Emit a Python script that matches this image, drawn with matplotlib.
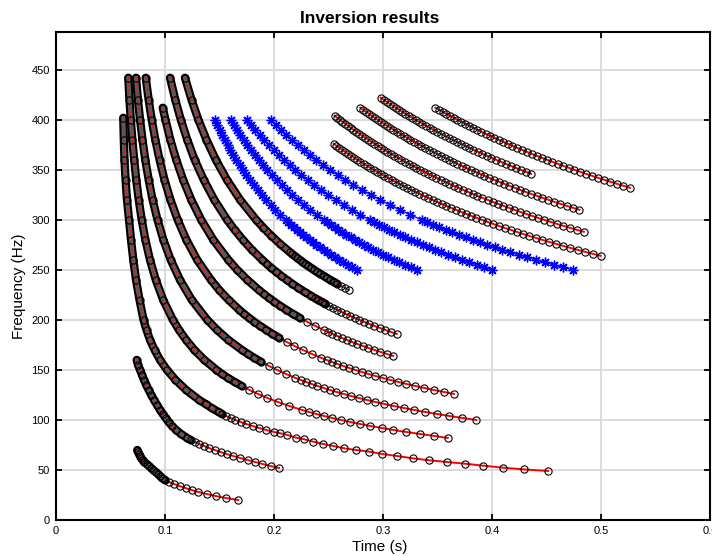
import numpy as np
import matplotlib
matplotlib.use("Agg")
import matplotlib.pyplot as plt

plt.rcParams["font.family"] = ["Liberation Sans", "DejaVu Sans"]

# picked dispersion curves: arrival time (s) against frequency (Hz)
m1_f = [402, 380, 360, 340, 320, 300, 280, 260, 240, 220, 200, 190, 180, 170, 160, 150, 140, 130,
        120, 116, 112, 108, 106, 104, 102, 100, 98, 96, 94, 92, 90, 88, 86.7, 85, 82.3, 80.7, 78.3,
        76, 74, 71.7, 70, 68.3, 66, 64, 61.7, 59.7, 58, 56.3, 54.3, 52.3, 50.6, 49]
m1_t = [0.0617, 0.0622, 0.0628, 0.0638, 0.0651, 0.0670, 0.0688, 0.0709, 0.0734, 0.0766, 0.0803,
        0.0830, 0.0862, 0.0904, 0.0954, 0.1018, 0.1096, 0.1193, 0.1312, 0.1372, 0.1427, 0.1491,
        0.1523, 0.1560, 0.1601, 0.1642, 0.1693, 0.1743, 0.1803, 0.1862, 0.1927, 0.2000, 0.2058,
        0.2122, 0.2202, 0.2278, 0.2361, 0.2450, 0.2544, 0.2642, 0.2752, 0.2874, 0.2994, 0.3128,
        0.3272, 0.3425, 0.3584, 0.3752, 0.3920, 0.4101, 0.4294, 0.4514]

low1_f = list(range(70, 18, -2))
low1_t = [0.0746, 0.0752, 0.0761, 0.0771, 0.0780, 0.0794, 0.0807, 0.0830, 0.0853, 0.0872, 0.0894,
          0.0913, 0.0936, 0.0954, 0.0972, 0.1000, 0.1037, 0.1083, 0.1133, 0.1188, 0.1243, 0.1306,
          0.1383, 0.1465, 0.1560, 0.1672]

low2_f = [160, 155, 150, 145, 140, 135, 130, 125, 120, 115, 110, 106, 102, 98, 94, 90, 86, 82] + \
    list(range(80, 50, -2))
low2_t = [0.0740, 0.0752, 0.0771, 0.0789, 0.0807, 0.0828, 0.0850, 0.0874, 0.0899, 0.0927, 0.0954,
          0.0979, 0.1005, 0.1032, 0.1064, 0.1101, 0.1147, 0.1202, 0.1234, 0.1271, 0.1312, 0.1358,
          0.1404, 0.1454, 0.1509, 0.1564, 0.1624, 0.1688, 0.1757, 0.1826, 0.1894, 0.1968, 0.2046]

m2_f = [442, 420, 400, 380, 360, 340, 320, 300, 280, 260, 240, 220, 200, 190, 180, 170, 160, 150,
        146, 142, 138, 134, 130, 126, 122, 118, 114, 110] + list(range(108, 80, -2))
m2_t = [0.0663, 0.0674, 0.0686, 0.0700, 0.0717, 0.0736, 0.0759, 0.0786, 0.0820, 0.0862, 0.0915,
        0.0983, 0.1072, 0.1128, 0.1193, 0.1269, 0.1361, 0.1472, 0.1522, 0.1577, 0.1638, 0.1703,
        0.1774, 0.1853, 0.1939, 0.2034, 0.2139, 0.2257, 0.2320, 0.2387, 0.2459, 0.2534, 0.2614,
        0.2698, 0.2789, 0.2884, 0.2987, 0.3096, 0.3213, 0.3338, 0.3472, 0.3594]

m3_f = [442, 420, 400, 380, 360, 340, 320, 300, 280, 260, 240, 220, 200, 190, 180, 170, 166, 162,
        158, 154, 150, 146, 142] + list(range(140, 98, -2))
m3_t = [0.0734, 0.0751, 0.0771, 0.0793, 0.0819, 0.0850, 0.0886, 0.0931, 0.0985, 0.1052, 0.1137,
        0.1245, 0.1388, 0.1477, 0.1581, 0.1704, 0.1760, 0.1819, 0.1883, 0.1952, 0.2028, 0.2109,
        0.2197, 0.2244, 0.2294, 0.2344, 0.2398, 0.2454, 0.2512, 0.2573, 0.2638, 0.2706, 0.2776,
        0.2850, 0.2928, 0.3011, 0.3097, 0.3189, 0.3284, 0.3386, 0.3494, 0.3607, 0.3728, 0.3856]

m4_f = [442, 420, 400, 380, 360, 340, 320, 300, 280, 260, 240, 230, 220, 210] + \
    list(range(206, 161, -4)) + list(range(160, 124, -2))
m4_t = [0.0823, 0.0850, 0.0878, 0.0911, 0.0950, 0.0995, 0.1050, 0.1116, 0.1196, 0.1295, 0.1421,
        0.1496, 0.1583, 0.1681, 0.1724, 0.1771, 0.1819, 0.1872, 0.1927, 0.1985, 0.2048, 0.2115,
        0.2187, 0.2263, 0.2346, 0.2435, 0.2482, 0.2530, 0.2581, 0.2633, 0.2688, 0.2745, 0.2804,
        0.2865, 0.2929, 0.2996, 0.3066, 0.3139, 0.3215, 0.3294, 0.3378, 0.3464, 0.3556, 0.3651]

m5_f = [412, 400, 380, 360, 340, 320, 300, 280, 260, 250, 240, 230] + \
    list(range(226, 189, -4)) + list(range(188, 162, -2))
m5_t = [0.0979, 0.1004, 0.1049, 0.1103, 0.1166, 0.1241, 0.1332, 0.1443, 0.1581, 0.1662, 0.1755,
        0.1859, 0.1905, 0.1952, 0.2004, 0.2057, 0.2114, 0.2174, 0.2238, 0.2306, 0.2377, 0.2454,
        0.2494, 0.2535, 0.2578, 0.2622, 0.2668, 0.2715, 0.2763, 0.2814, 0.2866, 0.2920, 0.2976,
        0.3035, 0.3094]

m6_f = [442, 420, 400, 380, 360, 340, 320, 300, 290, 280, 270, 260] + \
    list(range(256, 223, -4)) + list(range(222, 184, -2))
m6_t = [0.1046, 0.1094, 0.1145, 0.1204, 0.1272, 0.1355, 0.1452, 0.1570, 0.1638, 0.1714, 0.1797,
        0.1892, 0.1932, 0.1975, 0.2020, 0.2067, 0.2117, 0.2168, 0.2223, 0.2280, 0.2341, 0.2372,
        0.2405, 0.2439, 0.2472, 0.2507, 0.2544, 0.2581, 0.2619, 0.2659, 0.2699, 0.2741, 0.2784,
        0.2828, 0.2874, 0.2921, 0.2970, 0.3020, 0.3072, 0.3126]

m7_f = [442, 420, 400, 380, 360, 340, 320, 300, 292, 284, 276, 268] + list(range(266, 228, -2))
m7_t = [0.1183, 0.1243, 0.1306, 0.1380, 0.1466, 0.1568, 0.1689, 0.1836, 0.1903, 0.1976, 0.2055,
        0.2142, 0.2165, 0.2188, 0.2212, 0.2237, 0.2261, 0.2287, 0.2314, 0.2340, 0.2368, 0.2396,
        0.2426, 0.2455, 0.2485, 0.2517, 0.2549, 0.2581, 0.2615, 0.2650, 0.2684]

# late arrivals, upper right
r1_f = list(range(404, 287, -2))
r1_t = [0.2556, 0.2580, 0.2604, 0.2628, 0.2653, 0.2678, 0.2703, 0.2729, 0.2755, 0.2782,
        0.2809, 0.2836, 0.2864, 0.2892, 0.2921, 0.2950, 0.2980, 0.3010, 0.3041, 0.3072,
        0.3104, 0.3136, 0.3169, 0.3202, 0.3236, 0.3271, 0.3306, 0.3341, 0.3377, 0.3414,
        0.3452, 0.3490, 0.3529, 0.3568, 0.3609, 0.3650, 0.3692, 0.3734, 0.3777, 0.3821,
        0.3866, 0.3912, 0.3959, 0.4006, 0.4055, 0.4104, 0.4154, 0.4206, 0.4258, 0.4311,
        0.4366, 0.4421, 0.4477, 0.4535, 0.4594, 0.4654, 0.4715, 0.4778, 0.4842]
r2_f = list(range(376, 263, -2))
r2_t = [0.2547, 0.2572, 0.2598, 0.2625, 0.2651, 0.2679, 0.2706, 0.2735, 0.2763, 0.2793,
        0.2822, 0.2852, 0.2883, 0.2914, 0.2945, 0.2978, 0.3011, 0.3044, 0.3078, 0.3113,
        0.3148, 0.3184, 0.3220, 0.3257, 0.3295, 0.3334, 0.3373, 0.3413, 0.3454, 0.3495,
        0.3537, 0.3580, 0.3625, 0.3669, 0.3715, 0.3762, 0.3809, 0.3857, 0.3907, 0.3957,
        0.4009, 0.4061, 0.4115, 0.4170, 0.4225, 0.4282, 0.4340, 0.4400, 0.4461, 0.4522,
        0.4586, 0.4651, 0.4717, 0.4785, 0.4854, 0.4925, 0.4997]
r3_f = list(range(412, 309, -2))
r3_t = [0.2791, 0.2817, 0.2843, 0.2870, 0.2896, 0.2924, 0.2951, 0.2979, 0.3008, 0.3037,
        0.3066, 0.3096, 0.3126, 0.3157, 0.3188, 0.3220, 0.3252, 0.3285, 0.3318, 0.3352,
        0.3386, 0.3421, 0.3456, 0.3492, 0.3529, 0.3566, 0.3604, 0.3643, 0.3682, 0.3722,
        0.3762, 0.3803, 0.3845, 0.3888, 0.3931, 0.3975, 0.4020, 0.4066, 0.4113, 0.4160,
        0.4208, 0.4257, 0.4307, 0.4358, 0.4410, 0.4463, 0.4517, 0.4572, 0.4627, 0.4684,
        0.4743, 0.4802]
r4_f = list(range(422, 345, -2))
r4_t = [0.2977, 0.3005, 0.3032, 0.3060, 0.3088, 0.3117, 0.3146, 0.3175, 0.3205, 0.3236,
        0.3266, 0.3298, 0.3330, 0.3362, 0.3395, 0.3428, 0.3462, 0.3496, 0.3531, 0.3566,
        0.3602, 0.3638, 0.3676, 0.3713, 0.3751, 0.3790, 0.3830, 0.3870, 0.3911, 0.3952,
        0.3995, 0.4037, 0.4081, 0.4125, 0.4171, 0.4217, 0.4263, 0.4310, 0.4359]
r5_f = list(range(412, 331, -2))
r5_t = [0.3481, 0.3514, 0.3546, 0.3580, 0.3613, 0.3648, 0.3682, 0.3718, 0.3754, 0.3790,
        0.3827, 0.3865, 0.3903, 0.3942, 0.3981, 0.4021, 0.4061, 0.4103, 0.4144, 0.4187,
        0.4230, 0.4274, 0.4319, 0.4364, 0.4410, 0.4457, 0.4505, 0.4554, 0.4603, 0.4653,
        0.4704, 0.4756, 0.4808, 0.4862, 0.4917, 0.4973, 0.5029, 0.5087, 0.5146, 0.5205,
        0.5266]

# modelled arrivals from the inverted parameters (blue stars)
pred_f = list(range(400, 299, -5)) + [297.5, 295, 292.5, 290, 287.5, 285, 282.5, 280, 277.5, 275,
                                      272.5, 270, 267.5, 265, 262.5, 260, 257.5, 255, 252.5, 250]
pred1_t = [0.1459, 0.1480, 0.1502, 0.1525, 0.1549, 0.1574, 0.1600, 0.1626, 0.1655, 0.1684, 0.1714,
           0.1746, 0.1779, 0.1814, 0.1850, 0.1888, 0.1928, 0.1969, 0.2013, 0.2059, 0.2107,
           0.2132, 0.2158, 0.2184, 0.2211, 0.2239, 0.2267, 0.2296, 0.2326, 0.2357, 0.2389,
           0.2421, 0.2455, 0.2489, 0.2524, 0.2561, 0.2598, 0.2637, 0.2676, 0.2717, 0.2759]
pred2_t = [0.1603, 0.1631, 0.1660, 0.1690, 0.1721, 0.1754, 0.1788, 0.1823, 0.1860, 0.1898, 0.1938,
           0.1980, 0.2023, 0.2069, 0.2116, 0.2166, 0.2219, 0.2273, 0.2331, 0.2391, 0.2454,
           0.2487, 0.2520, 0.2555, 0.2590, 0.2627, 0.2664, 0.2702, 0.2742, 0.2782, 0.2824,
           0.2866, 0.2910, 0.2955, 0.3002, 0.3049, 0.3098, 0.3149, 0.3201, 0.3254, 0.3310]
pred3_t = [0.1755, 0.1792, 0.1830, 0.1870, 0.1911, 0.1954, 0.1998, 0.2045, 0.2093, 0.2144, 0.2196,
           0.2251, 0.2309, 0.2368, 0.2431, 0.2497, 0.2566, 0.2638, 0.2713, 0.2792, 0.2876,
           0.2919, 0.2963, 0.3009, 0.3055, 0.3103, 0.3152, 0.3203, 0.3255, 0.3308, 0.3363,
           0.3419, 0.3476, 0.3536, 0.3597, 0.3660, 0.3724, 0.3791, 0.3860, 0.3930, 0.4003]
pred4_t = [0.1972, 0.2018, 0.2065, 0.2114, 0.2164, 0.2217, 0.2272, 0.2329, 0.2389, 0.2451, 0.2516,
           0.2584, 0.2655, 0.2729, 0.2806, 0.2887, 0.2972, 0.3060, 0.3153, 0.3251, 0.3354,
           0.3407, 0.3462, 0.3518, 0.3575, 0.3634, 0.3695, 0.3757, 0.3821, 0.3887, 0.3954,
           0.4023, 0.4094, 0.4168, 0.4243, 0.4320, 0.4400, 0.4482, 0.4567, 0.4653, 0.4743]

early = [(m1_t, m1_f), (low1_t, low1_f), (low2_t, low2_f), (m2_t, m2_f), (m3_t, m3_f),
         (m4_t, m4_f), (m5_t, m5_f), (m6_t, m6_f), (m7_t, m7_f)]
late = [(r1_t, r1_f), (r2_t, r2_f), (r3_t, r3_f), (r4_t, r4_f), (r5_t, r5_f)]
predicted = [pred1_t, pred2_t, pred3_t, pred4_t]

fig = plt.figure(figsize=(7.12, 5.56), dpi=100)
ax = fig.add_axes([0.0787, 0.0647, 0.9185, 0.8783])
ax.set_xlim(0, 0.6)
ax.set_ylim(0, 488)

pos = ax.get_position()
px_per_s = pos.width * fig.get_figwidth() * fig.dpi / 0.6
px_per_hz = pos.height * fig.get_figheight() * fig.dpi / 488.0


def steep_part(t, f, limit=1.8):
    # where the picks pile up on top of each other the circles merge into a band
    t = np.asarray(t, float)
    f = np.asarray(f, float)
    steep = np.abs(np.diff(t)) * px_per_s < limit * np.abs(np.diff(f)) * px_per_hz
    keep = np.zeros(len(t), bool)
    keep[:-1] |= steep
    keep[1:] |= steep
    return np.where(keep, t, np.nan), f


def picks(t, f, band=True):
    ax.plot(t, f, color="r", lw=1.4, zorder=1.9)
    if band:
        tt, ff = steep_part(t, f)
        ax.plot(tt, ff, color="k", lw=6, solid_capstyle="round", zorder=2)
        ax.plot(tt, ff, color="#5c5c5c", lw=3.0, solid_capstyle="round", zorder=2.1)
        ax.plot(tt, ff, color="r", lw=0.9, ls=(0, (1.5, 1.5)), zorder=2.2)
    ax.plot(t, f, ls="none", marker="o", ms=5.2, mfc="none", mec="k", mew=0.8, zorder=3)


for t, f in early:
    picks(t, f)
for t, f in late:
    picks(t, f, band=False)

for t in predicted:
    ax.plot(t, pred_f, color="b", lw=1.0, zorder=2)
    ax.plot(t, pred_f, ls="none", marker=(8, 2, 0), ms=7, mec="b", mew=1.0, zorder=3)

ax.grid(True, color="#dadada", lw=1.4)
ax.set_axisbelow(True)

ax.set_xticks([0, 0.1, 0.2, 0.3, 0.4, 0.5, 0.6])
ax.set_xticklabels(["0", "0.1", "0.2", "0.3", "0.4", "0.5", "0.6"])
ax.set_yticks(range(0, 451, 50))
ax.tick_params(direction="in", length=4.5, width=1.3, top=True, right=True,
               labelsize=8, pad=4.5)
for sp in ax.spines.values():
    sp.set_linewidth(1.5)

ax.set_xlabel("Time (s)", fontsize=11, labelpad=3)
ax.xaxis.label.set_x(0.495)
ax.set_ylabel("Frequency (Hz)", fontsize=11, labelpad=3.5)
ax.yaxis.label.set_y(0.479)
ax.set_title("Inversion results", fontsize=12.5, fontweight="bold", pad=6, x=0.479)

fig.savefig("out.png", dpi=100)
